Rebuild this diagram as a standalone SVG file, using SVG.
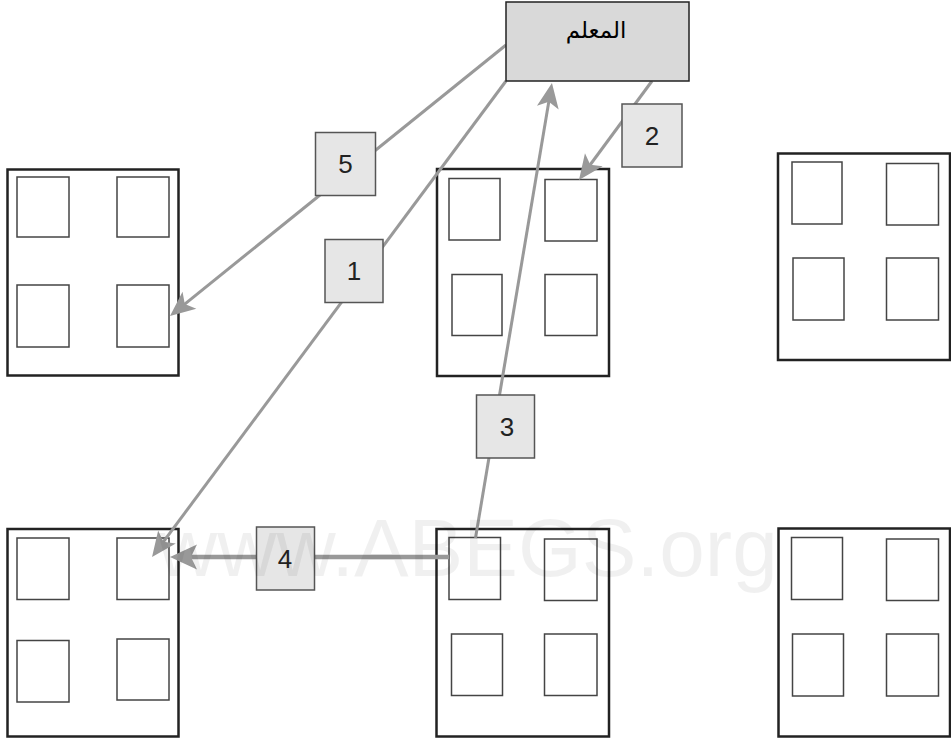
<svg xmlns="http://www.w3.org/2000/svg" width="951" height="739" viewBox="0 0 951 739">
<style>
.outer{fill:#fff;stroke:#222;stroke-width:2.5}
.inner{fill:#fff;stroke:#444;stroke-width:1.5}
.conn{fill:none;stroke:#999;stroke-width:3}
.lbl rect{fill:#e6e6e6;stroke:#555;stroke-width:1.5}
.lbl text{font-family:"Liberation Sans",Arial,sans-serif;font-size:26px;fill:#222;text-anchor:middle}
</style>
<defs>
<marker id="ah" markerUnits="userSpaceOnUse" markerWidth="30" markerHeight="30" refX="12" refY="11" orient="auto" overflow="visible"><path d="M0,0 L25,11 L0,22 L6,11 Z" fill="#999"/></marker>
<marker id="ah2" markerUnits="userSpaceOnUse" markerWidth="30" markerHeight="30" refX="13" refY="12.5" orient="auto" overflow="visible"><path d="M0,0 L27,12.5 L0,25 L6,12.5 Z" fill="#999"/></marker>
</defs>
<rect width="951" height="739" fill="#fff"/>
<g id="desk-top-left">
<rect class="outer" x="7.5" y="169.5" width="171" height="206"/>
<rect class="inner" x="17" y="177" width="52" height="60"/>
<rect class="inner" x="117" y="177" width="52" height="60"/>
<rect class="inner" x="17" y="285" width="52" height="62"/>
<rect class="inner" x="117" y="285" width="52" height="62"/>
</g>
<g id="desk-top-middle">
<rect class="outer" x="437" y="169" width="172" height="207"/>
<rect class="inner" x="449" y="178.5" width="51" height="61.5"/>
<rect class="inner" x="545" y="179.5" width="52" height="61.5"/>
<rect class="inner" x="452" y="274.5" width="50" height="61"/>
<rect class="inner" x="545" y="274.5" width="52" height="61"/>
</g>
<g id="desk-top-right">
<rect class="outer" x="778" y="153.5" width="172" height="206.5"/>
<rect class="inner" x="792" y="162" width="50" height="62"/>
<rect class="inner" x="886.5" y="163.5" width="52" height="61.5"/>
<rect class="inner" x="793" y="258" width="51" height="62"/>
<rect class="inner" x="886.5" y="258" width="52" height="62"/>
</g>
<g id="desk-bottom-left">
<rect class="outer" x="7.5" y="529" width="171" height="207.5"/>
<rect class="inner" x="17" y="538" width="52" height="61.5"/>
<rect class="inner" x="117" y="538" width="52" height="61.5"/>
<rect class="inner" x="17" y="640.5" width="52" height="61.5"/>
<rect class="inner" x="117" y="639" width="52" height="61"/>
</g>
<g id="desk-bottom-middle">
<rect class="outer" x="436.5" y="529" width="172.5" height="207.5"/>
<rect class="inner" x="449" y="537.5" width="51.5" height="62"/>
<rect class="inner" x="544.5" y="539" width="52.5" height="61.5"/>
<rect class="inner" x="451.5" y="634" width="51" height="61.5"/>
<rect class="inner" x="544.5" y="634" width="52.5" height="61.5"/>
</g>
<g id="desk-bottom-right">
<rect class="outer" x="778.5" y="528.5" width="171.5" height="208"/>
<rect class="inner" x="791.5" y="537.5" width="51" height="62"/>
<rect class="inner" x="886.5" y="539" width="52" height="61.5"/>
<rect class="inner" x="792.5" y="634" width="51" height="62"/>
<rect class="inner" x="886.5" y="634" width="52" height="62"/>
</g>
<g id="connectors">
<path class="conn" d="M506,45 L180.1,307.8" marker-end="url(#ah)"/>
<path class="conn" d="M652,81 L586.7,169.5" marker-end="url(#ah)"/>
<path class="conn" d="M475.5,538 L549.8,95.8" marker-end="url(#ah)"/>
<path class="conn" d="M506,81 L159.8,546.6" marker-end="url(#ah)"/>
<path class="conn" style="stroke-width:4.5" d="M449,557 L184,557" marker-end="url(#ah2)"/>
</g>
<g id="labels">
<g id="label-1" class="lbl"><rect x="325" y="239.5" width="58" height="63"/><text x="354" y="280">1</text></g>
<g id="label-2" class="lbl"><rect x="622" y="104" width="60" height="63"/><text x="652" y="144.5">2</text></g>
<g id="label-3" class="lbl"><rect x="476.5" y="395" width="58" height="63"/><text x="507" y="435.5">3</text></g>
<g id="label-4" class="lbl"><rect x="256.5" y="527" width="58" height="63"/><text x="285" y="567.5">4</text></g>
<g id="label-5" class="lbl"><rect x="315.5" y="132.5" width="60" height="63"/><text x="345.5" y="173">5</text></g>
</g>
<g id="teacher">
<rect x="506" y="2" width="183" height="79" fill="#d9d9d9" stroke="#222" stroke-width="1.5"/>
<text x="596" y="38" font-family="DejaVu Sans, sans-serif" font-size="23" fill="#000" text-anchor="middle">المعلم</text>
</g>
<text x="158" y="576" font-family="Liberation Sans, Arial, sans-serif" font-size="82" fill="#000" fill-opacity="0.06">www.ABEGS.org</text>
</svg>
